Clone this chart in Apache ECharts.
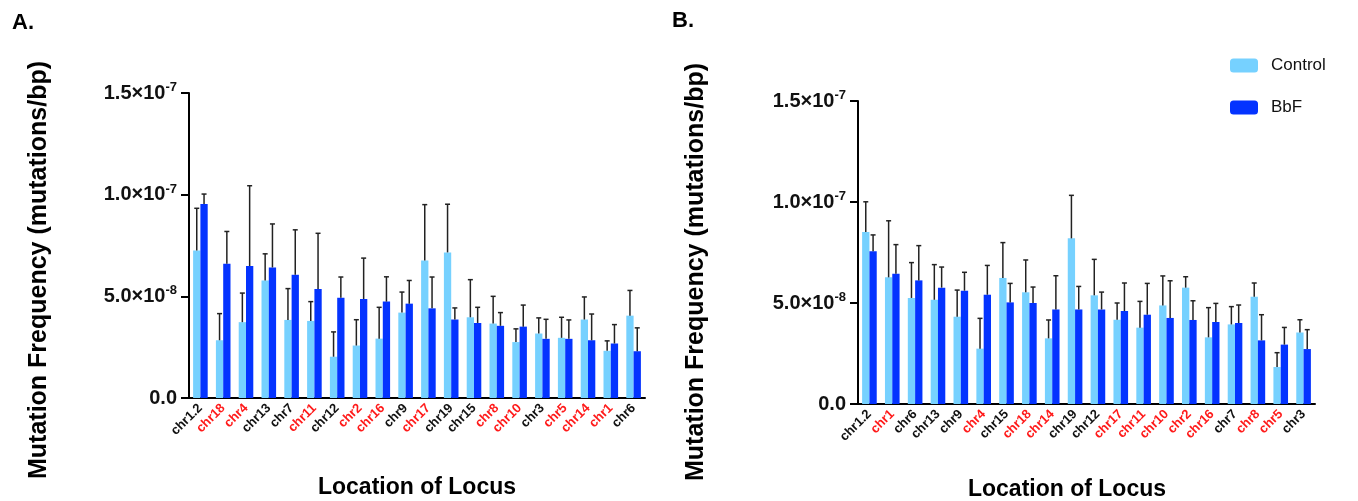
<!DOCTYPE html>
<html>
<head>
<meta charset="utf-8">
<title>Mutation Frequency by Locus</title>
<script src="https://cdn.jsdelivr.net/npm/echarts@6/dist/echarts.min.js"></script>
<style>
  html, body { margin: 0; padding: 0; background: #fff; }
  #chart { width: 1358px; height: 501px; }
</style>
</head>
<body>
<div id="chart"></div>
<script>
// values are in units of 1e-8 mutations/bp
const lociA = ['chr1.2', 'chr18', 'chr4', 'chr13', 'chr7', 'chr11', 'chr12', 'chr2', 'chr16', 'chr9',
    'chr17', 'chr19', 'chr15', 'chr8', 'chr10', 'chr3', 'chr5', 'chr14', 'chr1', 'chr6'];
const controlA = [7.25, 2.84, 3.73, 5.78, 3.84, 3.79, 2.03, 2.58, 2.92, 4.20, 6.76, 7.16, 3.97, 3.66, 2.75, 3.17, 2.96, 3.86, 2.32, 4.05];
const controlErrA = [2.08, 1.31, 1.43, 1.31, 1.54, 0.95, 1.22, 1.27, 1.54, 1.01, 2.75, 2.37, 1.85, 1.34, 0.65, 0.77, 1.01, 1.11, 0.49, 1.24];
const bbfA = [9.54, 6.60, 6.49, 6.42, 6.06, 5.36, 4.93, 4.87, 4.74, 4.64, 4.41, 3.86, 3.69, 3.55, 3.51, 2.91, 2.91, 2.84, 2.68, 2.30];
const bbfErrA = [0.49, 1.59, 3.95, 2.14, 2.21, 2.74, 1.02, 2.01, 1.22, 1.14, 1.54, 0.57, 0.77, 0.65, 1.06, 0.96, 0.93, 1.29, 0.93, 1.15];

const lociB = ['chr1.2', 'chr1', 'chr6', 'chr13', 'chr9', 'chr4', 'chr15', 'chr18', 'chr14', 'chr19',
    'chr12', 'chr17', 'chr11', 'chr10', 'chr2', 'chr16', 'chr7', 'chr8', 'chr5', 'chr3'];
const controlB = [8.51, 6.27, 5.25, 5.16, 4.32, 2.74, 6.24, 5.53, 3.25, 8.20, 5.38, 4.17, 3.78, 4.88, 5.76, 3.30, 3.94, 5.31, 1.83, 3.54];
const controlErrB = [1.50, 2.80, 1.75, 1.74, 1.32, 1.50, 1.75, 1.60, 0.91, 2.13, 1.78, 0.83, 1.30, 1.46, 0.54, 1.47, 0.88, 0.68, 0.71, 0.63];
const bbfB = [7.56, 6.45, 6.12, 5.76, 5.61, 5.41, 5.03, 5.00, 4.68, 4.68, 4.68, 4.60, 4.42, 4.26, 4.16, 4.06, 4.01, 3.15, 2.94, 2.72];
const bbfErrB = [0.81, 1.44, 1.72, 1.02, 0.91, 1.45, 0.94, 0.79, 1.67, 1.14, 0.86, 1.39, 1.55, 1.84, 0.95, 0.92, 0.89, 1.27, 0.85, 0.96];

// loci drawn in red on the x axis
const redLoci = ['chr1', 'chr2', 'chr4', 'chr5', 'chr8', 'chr10', 'chr11', 'chr14', 'chr16', 'chr17', 'chr18'];
const yTicks = { 0: '{b|0.0}', 5: '{b|5.0×10}{s|-8}', 10: '{b|1.0×10}{s|-7}', 15: '{b|1.5×10}{s|-7}' };

const FONT = '"Liberation Sans", Arial, sans-serif';
const CONTROL_COLOR = '#76D1FF';
const BBF_COLOR = '#0433FF';
const BAR_FRAC = 0.32;

const chart = echarts.init(document.getElementById('chart'));

function errorSeries(name, values, errs, axisIdx, side) {
    return {
        type: 'custom',
        name: name,
        xAxisIndex: axisIdx,
        yAxisIndex: axisIdx,
        z: 5,
        silent: true,
        data: values.map((v, i) => [i, v, v + errs[i]]),
        renderItem: function(params, api) {
            const band = api.size([1, 0])[0];
            const base = api.coord([api.value(0), api.value(1)]);
            const top = api.coord([api.value(0), api.value(2)]);
            const x = base[0] + side * band * BAR_FRAC / 2;
            const style = { stroke: '#222', lineWidth: 1.5 };
            return {
                type: 'group',
                children: [
                    { type: 'line', shape: { x1: x, y1: base[1], x2: x, y2: top[1] }, style: style },
                    { type: 'line', shape: { x1: x - 2.5, y1: top[1], x2: x + 2.5, y2: top[1] }, style: style }
                ]
            };
        }
    };
}

function xAxis(idx, cats) {
    return {
        type: 'category',
        gridIndex: idx,
        data: cats,
        axisLine: { lineStyle: { color: '#000', width: 2 } },
        axisTick: { alignWithLabel: true, length: 8, lineStyle: { color: '#000', width: 2 } },
        axisLabel: {
            interval: 0,
            rotate: 45,
            margin: 8,
            fontFamily: FONT,
            fontSize: 13,
            fontWeight: 'bold',
            color: function(value) {
                return redLoci.indexOf(value) >= 0 ? '#FF1A1A' : '#111';
            }
        }
    };
}

function yAxis(idx) {
    return {
        type: 'value',
        gridIndex: idx,
        min: 0,
        max: 15,
        interval: 5,
        splitLine: { show: false },
        axisLine: { show: true, lineStyle: { color: '#000', width: 2 } },
        axisTick: { show: true, length: 8, lineStyle: { color: '#000', width: 2 } },
        axisLabel: {
            margin: 12,
            formatter: function(v) { return yTicks[v] || ''; },
            rich: {
                b: { fontFamily: FONT, fontSize: 20, fontWeight: 'bold', color: '#111', lineHeight: 24 },
                s: { fontFamily: FONT, fontSize: 13, fontWeight: 'bold', color: '#111', verticalAlign: 'top', lineHeight: 13 }
            }
        }
    };
}

function barSeries(name, values, axisIdx, color) {
    return {
        type: 'bar',
        name: name,
        xAxisIndex: axisIdx,
        yAxisIndex: axisIdx,
        data: values,
        barWidth: (BAR_FRAC * 100) + '%',
        barGap: '0%',
        itemStyle: { color: color }
    };
}

function titleText(text, x, y, rotated, size) {
    return {
        type: 'text',
        x: x,
        y: y,
        rotation: rotated ? Math.PI / 2 : 0,
        style: {
            text: text,
            fontFamily: FONT,
            fontSize: size,
            fontWeight: 'bold',
            fill: '#000',
            align: 'center',
            verticalAlign: 'middle'
        }
    };
}

const option = {
    animation: false,
    backgroundColor: '#fff',
    legend: {
        data: ['Control', 'BbF'],
        orient: 'vertical',
        left: 1230,
        top: 57,
        padding: 0,
        itemWidth: 28,
        itemHeight: 14,
        itemGap: 25,
        textStyle: { fontFamily: FONT, fontSize: 17, color: '#111', padding: [0, 0, 0, 8] }
    },
    grid: [
        { left: 189, top: 93, width: 456, height: 305 },
        { left: 858, top: 101, width: 457, height: 303 }
    ],
    xAxis: [xAxis(0, lociA), xAxis(1, lociB)],
    yAxis: [yAxis(0), yAxis(1)],
    graphic: [
        { type: 'text', left: 12, top: 12, style: { text: 'A.', fontFamily: FONT, fontSize: 22, fontWeight: 'bold', fill: '#000' } },
        { type: 'text', left: 672, top: 10, style: { text: 'B.', fontFamily: FONT, fontSize: 22, fontWeight: 'bold', fill: '#000' } },
        titleText('Mutation Frequency (mutations/bp)', 39, 270, true, 25),
        titleText('Mutation Frequency (mutations/bp)', 696, 272, true, 25),
        titleText('Location of Locus', 417, 488, false, 23),
        titleText('Location of Locus', 1067, 490, false, 23)
    ],
    series: [
        barSeries('Control', controlA, 0, CONTROL_COLOR),
        barSeries('BbF', bbfA, 0, BBF_COLOR),
        barSeries('Control', controlB, 1, CONTROL_COLOR),
        barSeries('BbF', bbfB, 1, BBF_COLOR),
        errorSeries('Control', controlA, controlErrA, 0, -1),
        errorSeries('BbF', bbfA, bbfErrA, 0, 1),
        errorSeries('Control', controlB, controlErrB, 1, -1),
        errorSeries('BbF', bbfB, bbfErrB, 1, 1)
    ]
};

chart.setOption(option);
</script>
</body>
</html>
